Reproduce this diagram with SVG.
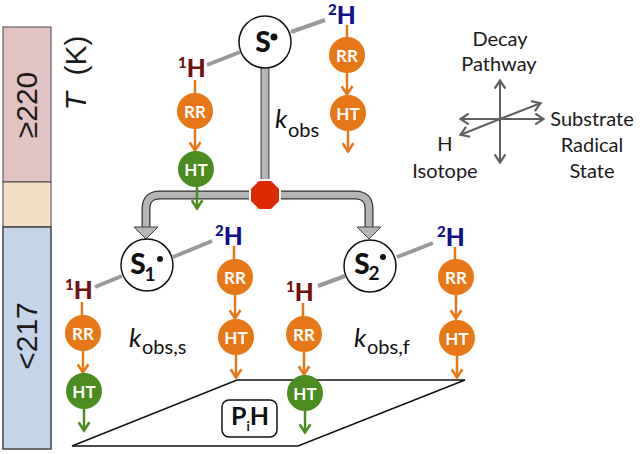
<svg xmlns="http://www.w3.org/2000/svg" width="640" height="454" viewBox="0 0 640 454">
<style>
text{font-family:Lato,"Open Sans","Liberation Sans",sans-serif;text-anchor:middle}
.lab{font-size:20px;fill:#1a1a1a}
.bar{font-family:"Liberation Sans",sans-serif;font-size:30px;fill:#1a1a1a}
.n{font-size:17px;fill:#fff;font-weight:700}
.rr{fill:#e87817}.ht{fill:#4a8c1f}
.h1,.h2{font-size:24.500px;font-weight:900;text-anchor:start}
.h1{fill:#6e1010}.h2{fill:#10108c}
.sup{font-size:15px}
.o{stroke:#e87817;stroke-width:2.5;fill:none}
.g{stroke:#4a8c1f;stroke-width:2.5;fill:none}
.bond{stroke:#999;stroke-width:4;fill:none}
.ax{stroke:#5f5f5f;stroke-width:2;fill:none}
.circ{fill:#fff;stroke:#111;stroke-width:1.5}
.s{font-size:28px;font-weight:900;fill:#111}
.sub{font-size:19px;font-weight:700;fill:#111}
.k{font-size:26px;font-style:italic;fill:#111;text-anchor:start}
.ks{font-size:20px;fill:#111;text-anchor:start}
</style>
<defs>
<marker id="ao" viewBox="0 0 12 12" refX="10.500" refY="6" markerWidth="13" markerHeight="13" markerUnits="userSpaceOnUse" orient="auto"><path d="M2.500 1L10 6L2.500 11" fill="none" stroke="#e87817" stroke-width="2.4"/></marker>
<marker id="ag" viewBox="0 0 12 12" refX="10.500" refY="6" markerWidth="13" markerHeight="13" markerUnits="userSpaceOnUse" orient="auto"><path d="M2.500 1L10 6L2.500 11" fill="none" stroke="#4a8c1f" stroke-width="2.4"/></marker>
<marker id="ax" viewBox="0 0 12 12" refX="10.500" refY="6" markerWidth="13" markerHeight="13" markerUnits="userSpaceOnUse" orient="auto"><path d="M2.500 1L10 6L2.500 11" fill="none" stroke="#5f5f5f" stroke-width="2"/></marker>
</defs>

<g id="temperature-bar">
<rect x="3" y="27" width="48" height="155" fill="#e2c2c2" stroke="#444" stroke-width="1"/>
<rect x="3" y="182" width="48" height="45" fill="#f5dfc4" stroke="#444" stroke-width="1"/>
<rect x="3" y="227" width="48" height="222" fill="#c5d4e8" stroke="#444" stroke-width="1.5"/>
<text class="bar" transform="translate(37,105) rotate(-90)">≥220</text>
<text class="bar" transform="translate(37,336) rotate(-90)">&lt;217</text>
<text transform="translate(86,73) rotate(-90)" style="font-family:'Liberation Sans',sans-serif;font-size:30px;fill:#1a1a1a"><tspan font-style="italic">T</tspan>&#160; (K)</text>
</g>

<g id="plane">
<path d="M72 446L237 380H465L298 446Z" fill="#fff" stroke="#111" stroke-width="1.6"/>
</g>

<g id="connectors">
<path d="M146 227V209Q146 195 160 195H355Q369 195 369 209V227" fill="none" stroke="#333" stroke-width="9"/>
<path d="M146 227V209Q146 195 160 195H355Q369 195 369 209V227" fill="none" stroke="#b5b5b5" stroke-width="6.500"/>
<path d="M265 66V182" fill="none" stroke="#555" stroke-width="9"/>
<path d="M265 66V182" fill="none" stroke="#b5b5b5" stroke-width="6.500"/>
<path d="M134 227H158L146 239Z" fill="#b5b5b5" stroke="#444"/>
<path d="M357 227H381L369 239Z" fill="#b5b5b5" stroke="#444"/>
<path class="bond" d="M207 65L240 52M291 32L325 20"/>
<path class="bond" d="M95 287L122 276M173 257L212 241"/>
<path class="bond" d="M318 286L345 276M397 257L433 243"/>
<path class="o" d="M195 80V93"/><path class="o" d="M195 129V151" marker-end="url(#ao)"/><path class="g" d="M197 187V209" marker-end="url(#ag)"/>
<path class="o" d="M347 25V38"/><path class="o" d="M347 73V95" marker-end="url(#ao)"/><path class="o" d="M348 131V152" marker-end="url(#ao)"/>
<path class="o" d="M82 302V316"/><path class="o" d="M83 351V373" marker-end="url(#ao)"/><path class="g" d="M84 409V431" marker-end="url(#ag)"/>
<path class="o" d="M234 246V260"/><path class="o" d="M235 295V319" marker-end="url(#ao)"/><path class="o" d="M236 355V378" marker-end="url(#ao)"/>
<path class="o" d="M303 303V317"/><path class="o" d="M304 352V375" marker-end="url(#ao)"/><path class="g" d="M305 411V433" marker-end="url(#ag)"/>
<path class="o" d="M455 247V260"/><path class="o" d="M456 295V319" marker-end="url(#ao)"/><path class="o" d="M457 356V378" marker-end="url(#ao)"/>
</g>

<g id="stop"><path d="M258.500 180H271.500L280 188.500V201.500L271.500 210H258.500L250 201.500V188.500Z" fill="#dd2a05" stroke="#fff" stroke-width="2"/></g>

<g id="node-S"><circle class="circ" cx="265" cy="42" r="26"/><text class="s" x="263" y="52">S</text><circle cx="274" cy="37" r="3.500" fill="#111"/></g>
<g id="node-S1"><circle class="circ" cx="147" cy="265" r="26"/><text class="s" x="138" y="274">S</text><text class="sub" x="150" y="281">1</text><circle cx="160" cy="259" r="3" fill="#111"/></g>
<g id="node-S2"><circle class="circ" cx="370" cy="266" r="26"/><text class="s" x="362" y="274">S</text><text class="sub" x="374" y="280">2</text><circle cx="383" cy="257" r="3" fill="#111"/></g>

<g id="iso-a"><text class="h1" x="178" y="77"><tspan class="sup" dy="-9">1</tspan><tspan dy="9">H</tspan></text></g>
<g id="iso-b"><text class="h2" x="328" y="23.500"><tspan class="sup" dy="-9">2</tspan><tspan dy="9">H</tspan></text></g>
<g id="iso-c"><text class="h1" x="65" y="299"><tspan class="sup" dy="-9">1</tspan><tspan dy="9">H</tspan></text></g>
<g id="iso-d"><text class="h2" x="215" y="245"><tspan class="sup" dy="-9">2</tspan><tspan dy="9">H</tspan></text></g>
<g id="iso-e"><text class="h1" x="286" y="301"><tspan class="sup" dy="-9">1</tspan><tspan dy="9">H</tspan></text></g>
<g id="iso-f"><text class="h2" x="437" y="246"><tspan class="sup" dy="-9">2</tspan><tspan dy="9">H</tspan></text></g>

<g id="rr-a"><circle class="rr" cx="195" cy="111" r="18"/><text class="n" x="195" y="118">RR</text></g>
<g id="ht-a"><circle class="ht" cx="196" cy="169" r="18"/><text class="n" x="196" y="176">HT</text></g>
<g id="rr-b"><circle class="rr" cx="347" cy="55" r="18"/><text class="n" x="347" y="62">RR</text></g>
<g id="ht-b"><circle class="rr" cx="348" cy="113" r="18"/><text class="n" x="348" y="120">HT</text></g>
<g id="rr-c"><circle class="rr" cx="83" cy="333" r="18"/><text class="n" x="83" y="340">RR</text></g>
<g id="ht-c"><circle class="ht" cx="84" cy="391" r="18"/><text class="n" x="84" y="398">HT</text></g>
<g id="rr-d"><circle class="rr" cx="235" cy="277" r="18"/><text class="n" x="235" y="284">RR</text></g>
<g id="ht-d"><circle class="rr" cx="236" cy="337" r="18"/><text class="n" x="236" y="344">HT</text></g>
<g id="rr-e"><circle class="rr" cx="304" cy="334" r="18"/><text class="n" x="304" y="341">RR</text></g>
<g id="ht-e"><circle class="ht" cx="305" cy="393" r="18"/><text class="n" x="305" y="400">HT</text></g>
<g id="rr-f"><circle class="rr" cx="456" cy="277" r="18"/><text class="n" x="456" y="284">RR</text></g>
<g id="ht-f"><circle class="rr" cx="457" cy="338" r="18"/><text class="n" x="457" y="345">HT</text></g>

<g id="rates">
<text class="k" x="275" y="128">k</text><text class="ks" x="288" y="137">obs</text>
<text class="k" x="129" y="347">k</text><text class="ks" x="142" y="354">obs,s</text>
<text class="k" x="354" y="347">k</text><text class="ks" x="367" y="354">obs,f</text>
</g>

<g id="product"><rect x="222" y="400" width="55" height="37" rx="7" fill="#fff" stroke="#111" stroke-width="1.5"/>
<text x="250" y="425" style="font-size:25px;font-weight:700;fill:#111">P<tspan font-size="13" dy="6">i</tspan><tspan dy="-6">H</tspan></text></g>

<g id="axes">
<path class="ax" d="M500 119V80" marker-end="url(#ax)"/><path class="ax" d="M500 119V163" marker-end="url(#ax)"/>
<path class="ax" d="M500 119H460" marker-end="url(#ax)"/><path class="ax" d="M500 119H544" marker-end="url(#ax)"/>
<path class="ax" d="M500 119L541 103" marker-end="url(#ax)"/><path class="ax" d="M500 119L460 135" marker-end="url(#ax)"/>
<text class="lab" x="500" y="46">Decay</text><text class="lab" x="499" y="71">Pathway</text>
<text class="lab" x="592" y="126">Substrate</text><text class="lab" x="592" y="152">Radical</text><text class="lab" x="592" y="178">State</text>
<text class="lab" x="445" y="151">H</text><text class="lab" x="445" y="178">Isotope</text>
</g>
</svg>
